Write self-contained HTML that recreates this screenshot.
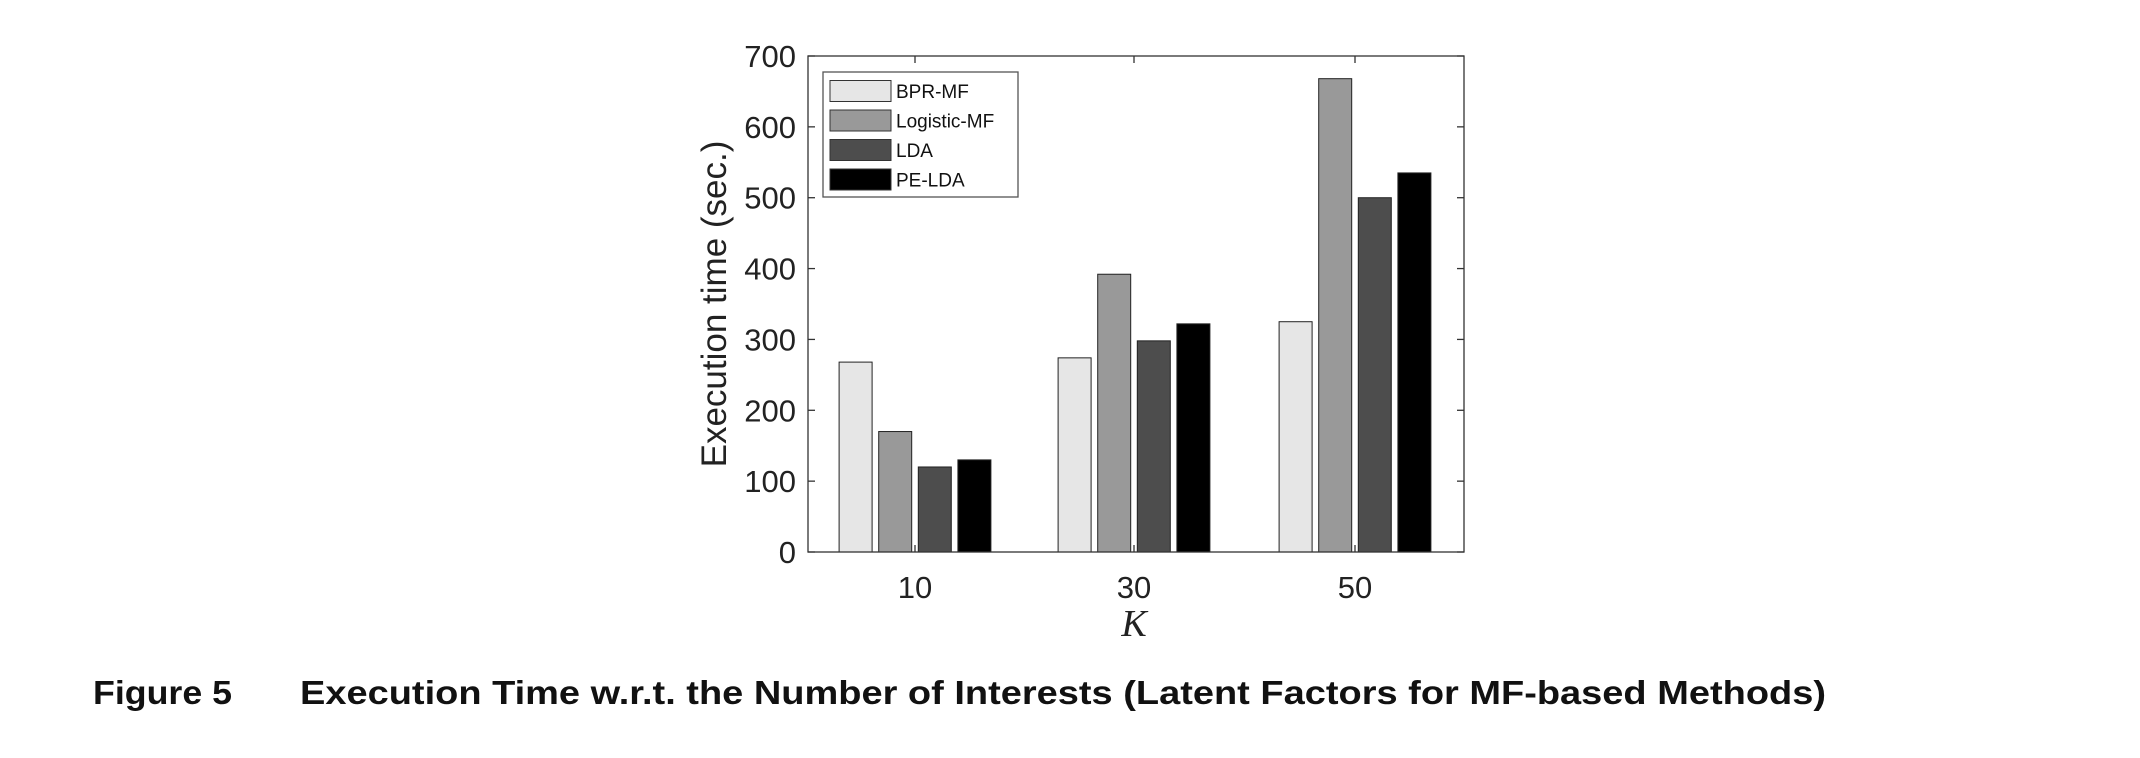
<!DOCTYPE html>
<html><head><meta charset="utf-8"><style>
html,body{margin:0;padding:0;background:#fff;}
svg{display:block;font-family:"Liberation Sans",sans-serif;}
</style></head><body>
<svg id="chart" width="2140" height="758" viewBox="0 0 2140 758" xmlns="http://www.w3.org/2000/svg">
<g id="plot"></g>
<g>
<rect x="823" y="72" width="195" height="125" fill="#fff" stroke="#555" stroke-width="1.3"/>
<g id="legend-items"></g>
</g>
<text transform="translate(726,304) rotate(-90)" text-anchor="middle" font-size="35" fill="#222">Execution time (sec.)</text>
<text x="1134" y="636" text-anchor="middle" font-size="38" font-style="italic" font-family="Liberation Serif, serif" fill="#222">K</text>
<text x="93" y="704" font-size="33" font-weight="bold" fill="#111" textLength="139" lengthAdjust="spacingAndGlyphs">Figure 5</text>
<text x="300" y="704" font-size="33" font-weight="bold" fill="#111" textLength="1526" lengthAdjust="spacingAndGlyphs">Execution Time w.r.t. the Number of Interests (Latent Factors for MF-based Methods)</text>
</svg>
<script>
const categories = ["10","30","50"];
const seriesNames = ["BPR-MF","Logistic-MF","LDA","PE-LDA"];
const bprMF = [268,274,325];
const logisticMF = [170,392,668];
const lda = [120,298,500];
const peLDA = [130,322,535];
const yTicks = [0,100,200,300,400,500,600,700];

const series = [bprMF, logisticMF, lda, peLDA];
const colors = ["#e6e6e6","#999999","#4d4d4d","#000000"];
const L=808,R=1464,T=56,B=552,yMax=700;
const centers=[915,1134,1355];
const yS=v=>B-(v/yMax)*(B-T);
const xS=i=>centers[i];
const ns="http://www.w3.org/2000/svg";
const plot=document.getElementById('plot');
function mk(tag,attrs,parent){const e=document.createElementNS(ns,tag);for(const k in attrs)e.setAttribute(k,attrs[k]);parent.appendChild(e);return e;}
const bw=33,step=39.6;
series.forEach((s,si)=>{
  s.forEach((v,ci)=>{
    const x=xS(ci)+(si-1.5)*step-bw/2;
    const r=mk('rect',{x:x,y:yS(v),width:bw,height:B-yS(v),fill:colors[si],stroke:'#222','stroke-width':1},plot);
    
    
  });
});
const box=mk('rect',{x:L,y:T,width:R-L,height:B-T,fill:'none',stroke:'#333','stroke-width':1.3},plot);


yTicks.forEach(t=>{
  const y=yS(t);
  mk('line',{x1:L,x2:L+7,y1:y,y2:y,stroke:'#333','stroke-width':1.3},plot);
  mk('line',{x1:R,x2:R-7,y1:y,y2:y,stroke:'#333','stroke-width':1.3},plot);
  const tx=mk('text',{x:L-12,y:y+11,'text-anchor':'end','font-size':31,fill:'#222'},plot);
  tx.textContent=t;
  
  
});
categories.forEach((c,i)=>{
  const x=xS(i);
  mk('line',{x1:x,x2:x,y1:B,y2:B-7,stroke:'#333','stroke-width':1.3},plot);
  mk('line',{x1:x,x2:x,y1:T,y2:T+7,stroke:'#333','stroke-width':1.3},plot);
  const tx=mk('text',{x:x,y:598,'text-anchor':'middle','font-size':31,fill:'#222'},plot);
  tx.textContent=c;
  
  
});
const lg=document.getElementById('legend-items');
seriesNames.forEach((n,i)=>{
  const cy=91+i*29.5;
  const sw=mk('rect',{x:830,y:cy-10.5,width:61,height:21,fill:colors[i],stroke:'#333','stroke-width':1},lg);
  
  
  const tx=mk('text',{x:896,y:cy+7,'font-size':19,fill:'#111'},lg);
  tx.textContent=n;
  
  
});
</script>
</body></html>
